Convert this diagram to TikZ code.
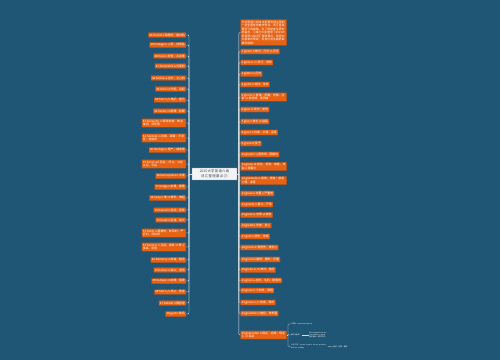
\documentclass[tikz,border=0pt]{standalone}
\usepackage{fontspec}
\setmainfont{Noto Sans CJK SC}
\XeTeXlinebreaklocale "zh"
\XeTeXlinebreakskip = 0pt plus 1pt
\definecolor{bgC}{RGB}{31,86,118}
\definecolor{leafC}{RGB}{232,98,20}
\definecolor{leafD}{RGB}{176,78,28}
\definecolor{lineC}{RGB}{215,222,228}
\definecolor{rootC}{RGB}{242,243,245}
\definecolor{rootD}{RGB}{150,155,160}

\begin{document}
\begin{tikzpicture}[
  root/.style={draw=rootD, fill=rootC, line width=0.8pt, rounded corners=1pt, text=black!75,
    font=\fontsize{9.5}{12}\selectfont, text width=120pt, align=center, inner xsep=4pt, inner ysep=6pt},
  leaf/.style={draw=leafD, fill=leafC, line width=0.8pt, rounded corners=1pt, text=white,
    font=\fontsize{8}{10}\selectfont, inner xsep=3pt, inner ysep=3pt},
  leafL/.style={leaf, anchor=east},
  leafR/.style={leaf, anchor=west},
  twoL/.style={leafL, text width=119pt, align=left},
  twoR/.style={leafR, text width=125pt, align=left},
  sub/.style={text=white, font=\fontsize{5}{6.5}\selectfont, anchor=west, inner sep=1pt},
  conn/.style={draw=lineC, line width=1.3pt, rounded corners=3pt},
  x=0.1cm, y=-0.1cm  % one unit = one pixel of the 500x360 sheet, y downwards
]

% ---------- sheet ----------
\fill[bgC] (0,0) rectangle (500,360);
\useasboundingbox (0,0) rectangle (500,360);

% ---------- central topic ----------
\node[root] (c) at (214.5,174) {2015大学英语六级词汇整理要点(7)};
\coordinate (lt) at (189,174);
\coordinate (rt) at (238.8,174);

% ============ left branch ============
\node[leafL] (l1) at (186,35) {50.hostile a.敌意的，敌对的};
\node[leafL] (l2) at (186,45) {49.hostage n.人质，抵押品};
\node[leafL] (l3) at (186,56) {48.hose n.软管，水龙带};
\node[leafL] (l4) at (186,66) {47.honorable a.光荣的};
\node[leafL] (l5) at (186,78) {46.hollow a.空的，空心的};
\node[leafL] (l6) at (186,89) {45.hoist vt.升起，吊起};
\node[leafL] (l7) at (186,100) {44.hint n./v.暗示，提示};
\node[leafL] (l8) at (186,111) {43.hinder vt.阻碍，妨碍};
\node[twoL] (l9) at (186,123) {42.hierarchy n.等级制度；统治集团，领导层};
\node[twoL] (l10) at (186,138) {41.hesitate vi.犹豫，踌躇；不愿意，有疑虑};
\node[leafL] (l11) at (186,150) {40.heritage n.遗产，继承物};
\node[twoL] (l12) at (186,164) {39.hence ad.因此，所以；从此以后，今后};
\node[leafL] (l13) at (186,176) {38.hemisphere n.半球};
\node[leafL] (l14) at (186,187) {37.hedge n.树篱，障碍};
\node[leafL] (l15) at (186,198) {36.heap n.堆 vt.堆积，堆起};
\node[leafL] (l16) at (186,210) {35.hazard n.危险，冒险};
\node[leafL] (l17) at (186,220) {34.haste n.急速，匆忙};
\node[twoL] (l18) at (186,233) {33.harsh a.粗糙的，刺耳的；严厉的，苛刻的};
\node[twoL] (l19) at (186,247) {32.harness n.马具，挽具 vt.套上挽具；利用};
\node[leafL] (l20) at (186,260) {31.harmony n.和谐，融洽};
\node[leafL] (l21) at (186,270) {30.harbor n.港口，港湾};
\node[leafL] (l22) at (186,281) {29.hamper vt.妨碍，阻碍};
\node[leafL] (l23) at (186,292) {28.halt n./v.停止，暂停};
\node[leafL] (l24) at (186,303) {27.habitat n.栖息地};
\node[leafL] (l25) at (186,314) {26.gust n.阵风};

\draw[conn] (c.west) -- (lt);
\draw[conn] (lt) |- (l1.east);  \draw[conn] (lt) |- (l2.east);  \draw[conn] (lt) |- (l3.east);
\draw[conn] (lt) |- (l4.east);  \draw[conn] (lt) |- (l5.east);  \draw[conn] (lt) |- (l6.east);
\draw[conn] (lt) |- (l7.east);  \draw[conn] (lt) |- (l8.east);  \draw[conn] (lt) |- (l9.east);
\draw[conn] (lt) |- (l10.east); \draw[conn] (lt) |- (l11.east); \draw[conn] (lt) |- (l12.east);
\draw[conn] (lt) |- (l13.east); \draw[conn] (lt) |- (l14.east); \draw[conn] (lt) |- (l15.east);
\draw[conn] (lt) |- (l16.east); \draw[conn] (lt) |- (l17.east); \draw[conn] (lt) |- (l18.east);
\draw[conn] (lt) |- (l19.east); \draw[conn] (lt) |- (l20.east); \draw[conn] (lt) |- (l21.east);
\draw[conn] (lt) |- (l22.east); \draw[conn] (lt) |- (l23.east); \draw[conn] (lt) |- (l24.east);
\draw[conn] (lt) |- (l25.east);

% ============ right branch ============
\node[twoR] (r1) at (240.5,32.5)
  {大学英语六级考试是教育部主管的一项全国性的教学考试，词汇是英语学习的基础。为了帮助考生更好地备考，小编为大家整理了2015大学英语六级词汇整理要点，希望对大家有所帮助，祝各位考生都能取得好成绩！};
\node[leafR] (r2) at (240.5,51.5) {1.gleam n.微光；闪光 vi.闪烁};
\node[leafR] (r3) at (240.5,62.5) {2.glide vi./n.滑行；滑翔};
\node[leafR] (r4) at (240.5,74) {3.glitter vi.闪光};
\node[leafR] (r5) at (240.5,84.5) {4.globe n.地球；球体};
\node[twoR] (r6) at (240.5,97) {5.gloom n.昏暗，阴暗；忧郁，沮丧 vt.使忧郁，使阴暗};
\node[leafR] (r7) at (240.5,109.5) {6.glow vi.发光；发热};
\node[leafR] (r8) at (240.5,121.5) {7.glue n.胶水 vt.粘贴};
\node[leafR] (r9) at (240.5,132.5) {8.grace n.优美，优雅；恩惠};
\node[leafR] (r10) at (240.5,143.5) {9.grant vt.授予};
\node[leafR] (r11) at (240.5,154.5) {10.graphic a.图表的，图解的};
\node[twoR] (r12) at (240.5,166.5) {11.grasp vt.抓住，抓紧；掌握，领会 n.理解力};
\node[twoR] (r13) at (240.5,180.5) {12.gratitude n.感激，感谢；感恩之情，谢意};
\node[leafR] (r14) at (240.5,193.5) {13.grave n.坟墓 a.严重的};
\node[leafR] (r15) at (240.5,204.5) {14.gravity n.重力；严肃};
\node[leafR] (r16) at (240.5,215) {15.graze vi.吃草 vt.擦伤};
\node[leafR] (r17) at (240.5,225.5) {16.greed n.贪婪，贪心};
\node[leafR] (r18) at (240.5,236.5) {17.grief n.悲伤，悲痛};
\node[leafR] (r19) at (240.5,247.5) {18.grieve vt.使悲伤，使伤心};
\node[leafR] (r20) at (240.5,259.5) {19.grind vt.磨碎，碾碎；折磨};
\node[leafR] (r21) at (240.5,270) {20.groan vi./n.呻吟；抱怨};
\node[leafR] (r22) at (240.5,280.5) {21.gross a.总的，毛的；粗鲁的};
\node[leafR] (r23) at (240.5,290.5) {22.grove n.小树林，果园};
\node[leafR] (r24) at (240.5,302.5) {23.growl vi./n.咆哮，嗥叫};
\node[leafR] (r25) at (240.5,313.5) {24.grumble vi.抱怨，发牢骚};
\node[twoR] (r26) at (240.5,335) {25.guarantee n.保证，担保；保证人 vt.保证};

\draw[conn] (c.east) -- (rt);
\draw[conn] (rt) |- (r1.west);  \draw[conn] (rt) |- (r2.west);  \draw[conn] (rt) |- (r3.west);
\draw[conn] (rt) |- (r4.west);  \draw[conn] (rt) |- (r5.west);  \draw[conn] (rt) |- (r6.west);
\draw[conn] (rt) |- (r7.west);  \draw[conn] (rt) |- (r8.west);  \draw[conn] (rt) |- (r9.west);
\draw[conn] (rt) |- (r10.west); \draw[conn] (rt) |- (r11.west); \draw[conn] (rt) |- (r12.west);
\draw[conn] (rt) |- (r13.west); \draw[conn] (rt) |- (r14.west); \draw[conn] (rt) |- (r15.west);
\draw[conn] (rt) |- (r16.west); \draw[conn] (rt) |- (r17.west); \draw[conn] (rt) |- (r18.west);
\draw[conn] (rt) |- (r19.west); \draw[conn] (rt) |- (r20.west); \draw[conn] (rt) |- (r21.west);
\draw[conn] (rt) |- (r22.west); \draw[conn] (rt) |- (r23.west); \draw[conn] (rt) |- (r24.west);
\draw[conn] (rt) |- (r25.west); \draw[conn] (rt) |- (r26.west);

% ---------- sub-topics of the last entry ----------
\coordinate (st) at (288,335);
\node[sub] (k1) at (290.5,324) {1.词组：guarantee against};
\node[sub] (k2) at (290.5,335) {例句与用法：};
\node[sub, text width=52pt] (g2) at (309,335) {We guarantee to deliver within a week. 我们保证一周内交货。};
\node[sub, text width=104pt] (k3) at (290.5,346.5) {2.近义词：assure, ensure, insure, promise, warrant, pledge};
\node[sub] (g3) at (333,347) {保证；担保；确保};

\draw[conn, line width=0.8pt, rounded corners=2pt] (r26.east) -- (st);
\draw[conn, line width=0.8pt, rounded corners=2pt] (st) |- (k1.west);
\draw[conn, line width=0.8pt, rounded corners=2pt] (st) |- (k2.west);
\draw[conn, line width=0.8pt, rounded corners=2pt] (st) |- (k3.west);
\draw[conn, line width=0.8pt] (k2.east) -- (g2.west);
\draw[conn, line width=0.8pt] (k3.east) -- (g3.west);

\end{tikzpicture}
\end{document}
